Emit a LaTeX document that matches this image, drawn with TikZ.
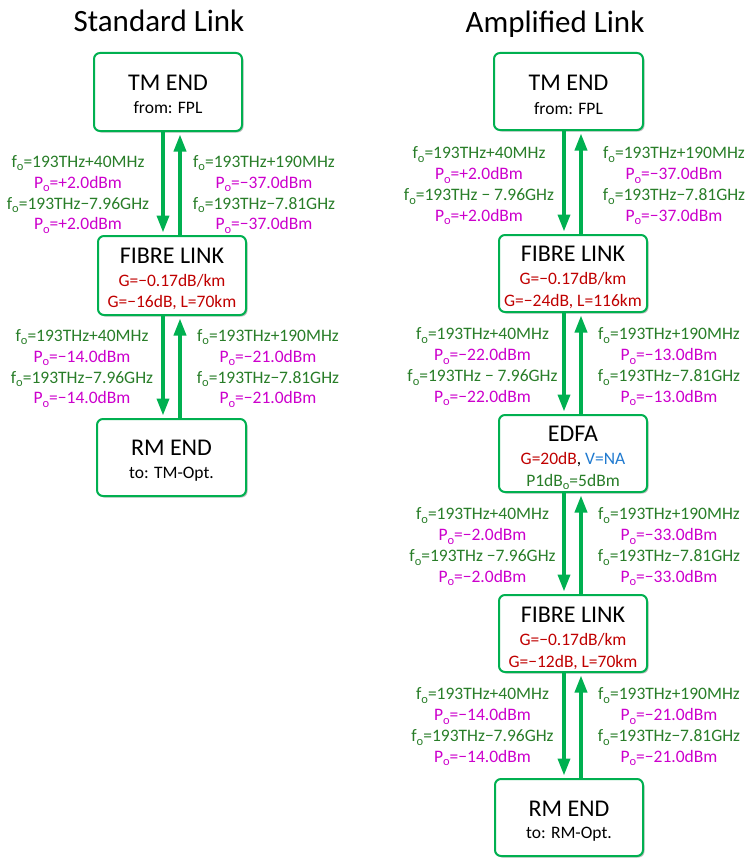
\documentclass[tikz,border=0pt]{standalone}
\usepackage{fontspec}
\setmainfont{Carlito}
\usetikzlibrary{arrows.meta,shadows,calc}
\definecolor{boxgreen}{HTML}{00B050}
\definecolor{lblgreen}{HTML}{287D28}
\definecolor{lblmag}{HTML}{CC00CC}
\definecolor{lblred}{HTML}{C00000}
\definecolor{lblblue}{HTML}{1F7AD0}
\newcommand{\sbo}{\raisebox{-3.5pt}{\fontsize{12.5}{12.5}\selectfont o}}
\newcommand{\fo}{f\sbo}
\newcommand{\Po}{P\sbo}
\newcommand{\mn}{\char"2212\relax}
\tikzset{
  box/.style={draw=boxgreen, line width=2pt, rounded corners=6pt, fill=white,
    minimum width=148pt, minimum height=77pt, inner sep=0pt,
    drop shadow={shadow xshift=1.5pt, shadow yshift=-1.5pt, opacity=0.35, fill=black!70}},
  ttl/.style={font=\fontsize{31}{37}\selectfont, anchor=base, inner sep=0pt},
  head/.style={font=\fontsize{24}{29}\selectfont, anchor=base, inner sep=0pt},
  sub/.style={font=\fontsize{17.5}{21}\selectfont, anchor=base, inner sep=0pt},
  lg/.style={sub, text=lblgreen},
  lm/.style={sub, text=lblmag},
  lr/.style={sub, text=lblred},
  arr/.style={draw=boxgreen, line width=3.5pt, -{Triangle[width=12pt,length=17pt]}, shorten >=2.5pt},
}
\newcommand{\lblset}[7]{%
  \node[lg] (#1a) at (#2,#3) {#4};
  \node[lm] (#1b) at (#2,{#3+21}) {#5};
  \node[lg] (#1c) at (#2,{#3+42}) {#6};
  \node[lm] (#1d) at (#2,{#3+62.5}) {#7};
}
\begin{document}
\begin{tikzpicture}[x=1pt,y=-1pt]
\useasboundingbox (0,0) rectangle (745,859);

% titles
\node[ttl] (t1) at (159,32) {Standard Link};
\node[ttl] (t2) at (555,32.5) {Amplified Link};

% ---------------- Standard link ----------------
\node[box, minimum height=78pt] (tmL) at (168,92) {};
\node[head] (tmLa) at (168,90.7) {TM END};
\node[sub] (tmLb) at (168,113.6) {from: FPL};

\node[box, minimum height=79pt] (fibL) at (172,275.5) {};
\node[head] (fibLa) at (172,263.4) {FIBRE LINK};
\node[lr] (fibLb) at (172,286.6) {G=\mn0.17dB/km};
\node[lr] (fibLc) at (172,307.3) {G=\mn16dB, L=70km};

\node[box, minimum width=149pt] (rmL) at (171.5,457.5) {};
\node[head] (rmLa) at (171.5,455.7) {RM END};
\node[sub] (rmLb) at (171.5,478.6) {to: TM-Opt.};

\coordinate (dL) at (163,0);
\coordinate (uL) at (180,0);
\draw[arr] (tmL.south -| dL) -- (fibL.north -| dL);
\draw[arr] (fibL.north -| uL) -- (tmL.south -| uL);
\draw[arr] (fibL.south -| dL) -- (rmL.north -| dL);
\draw[arr] (rmL.north -| uL) -- (fibL.south -| uL);

\lblset{sL1}{78}{167.3}{\fo=193THz+40MHz}{\Po=+2.0dBm}{\fo=193THz\mn7.96GHz}{\Po=+2.0dBm}
\lblset{sR1}{264}{167.3}{\fo=193THz+190MHz}{\Po=\mn37.0dBm}{\fo=193THz\mn7.81GHz}{\Po=\mn37.0dBm}
\lblset{sL2}{82}{341.4}{\fo=193THz+40MHz}{\Po=\mn14.0dBm}{\fo=193THz\mn7.96GHz}{\Po=\mn14.0dBm}
\lblset{sR2}{268}{341.4}{\fo=193THz+190MHz}{\Po=\mn21.0dBm}{\fo=193THz\mn7.81GHz}{\Po=\mn21.0dBm}

% ---------------- Amplified link ----------------
\node[box, minimum width=149pt] (tmR) at (568.5,91.5) {};
\node[head] (tmRa) at (568.5,90.5) {TM END};
\node[sub] (tmRb) at (568.5,114.3) {from: FPL};

\node[box] (fib1R) at (573,273.5) {};
\node[head] (fib1Ra) at (573,261) {FIBRE LINK};
\node[lr] (fib1Rb) at (573,284.2) {G=\mn0.17dB/km};
\node[lr] (fib1Rc) at (573,306) {G=\mn24dB, L=116km};

\node[box] (edfa) at (573,453.5) {};
\node[head] (edfaa) at (573,441) {EDFA};
\node[sub] (edfab) at (573,464.3) {\textcolor{lblred}{G=20dB}, \textcolor{lblblue}{V=NA}};
\node[lg] (edfac) at (573,486) {P1dB\sbo=5dBm};

\node[box] (fib2R) at (573,633.5) {};
\node[head] (fib2Ra) at (573,622.4) {FIBRE LINK};
\node[lr] (fib2Rb) at (573,645.3) {G=\mn0.17dB/km};
\node[lr] (fib2Rc) at (573,667) {G=\mn12dB, L=70km};

\node[box] (rmR) at (569,817.5) {};
\node[head] (rmRa) at (569,816.7) {RM END};
\node[sub] (rmRb) at (569,838) {to: RM-Opt.};

\coordinate (dR) at (564,0);
\coordinate (uR) at (581,0);
\draw[arr] (tmR.south -| dR) -- (fib1R.north -| dR);
\draw[arr] (fib1R.north -| uR) -- (tmR.south -| uR);
\draw[arr] (fib1R.south -| dR) -- (edfa.north -| dR);
\draw[arr] (edfa.north -| uR) -- (fib1R.south -| uR);
\draw[arr] (edfa.south -| dR) -- (fib2R.north -| dR);
\draw[arr] (fib2R.north -| uR) -- (edfa.south -| uR);
\draw[arr] (fib2R.south -| dR) -- (rmR.north -| dR);
\draw[arr] (rmR.north -| uR) -- (fib2R.south -| uR);

\lblset{aL1}{479}{158.6}{\fo=193THz+40MHz}{\Po=+2.0dBm}{\fo=193THz \mn{} 7.96GHz}{\Po=+2.0dBm}
\lblset{aR1}{674}{158.6}{\fo=193THz+190MHz}{\Po=\mn37.0dBm}{\fo=193THz\mn7.81GHz}{\Po=\mn37.0dBm}
\lblset{aL2}{482.5}{339.8}{\fo=193THz+40MHz}{\Po=\mn22.0dBm}{\fo=193THz \mn{} 7.96GHz}{\Po=\mn22.0dBm}
\lblset{aR2}{669}{339.8}{\fo=193THz+190MHz}{\Po=\mn13.0dBm}{\fo=193THz\mn7.81GHz}{\Po=\mn13.0dBm}
\lblset{aL3}{482.5}{519.8}{\fo=193THz+40MHz}{\Po=\mn2.0dBm}{\fo=193THz \mn7.96GHz}{\Po=\mn2.0dBm}
\lblset{aR3}{669}{519.8}{\fo=193THz+190MHz}{\Po=\mn33.0dBm}{\fo=193THz\mn7.81GHz}{\Po=\mn33.0dBm}
\lblset{aL4}{482.5}{699.8}{\fo=193THz+40MHz}{\Po=\mn14.0dBm}{\fo=193THz\mn7.96GHz}{\Po=\mn14.0dBm}
\lblset{aR4}{669}{699.8}{\fo=193THz+190MHz}{\Po=\mn21.0dBm}{\fo=193THz\mn7.81GHz}{\Po=\mn21.0dBm}
\end{tikzpicture}
\end{document}
